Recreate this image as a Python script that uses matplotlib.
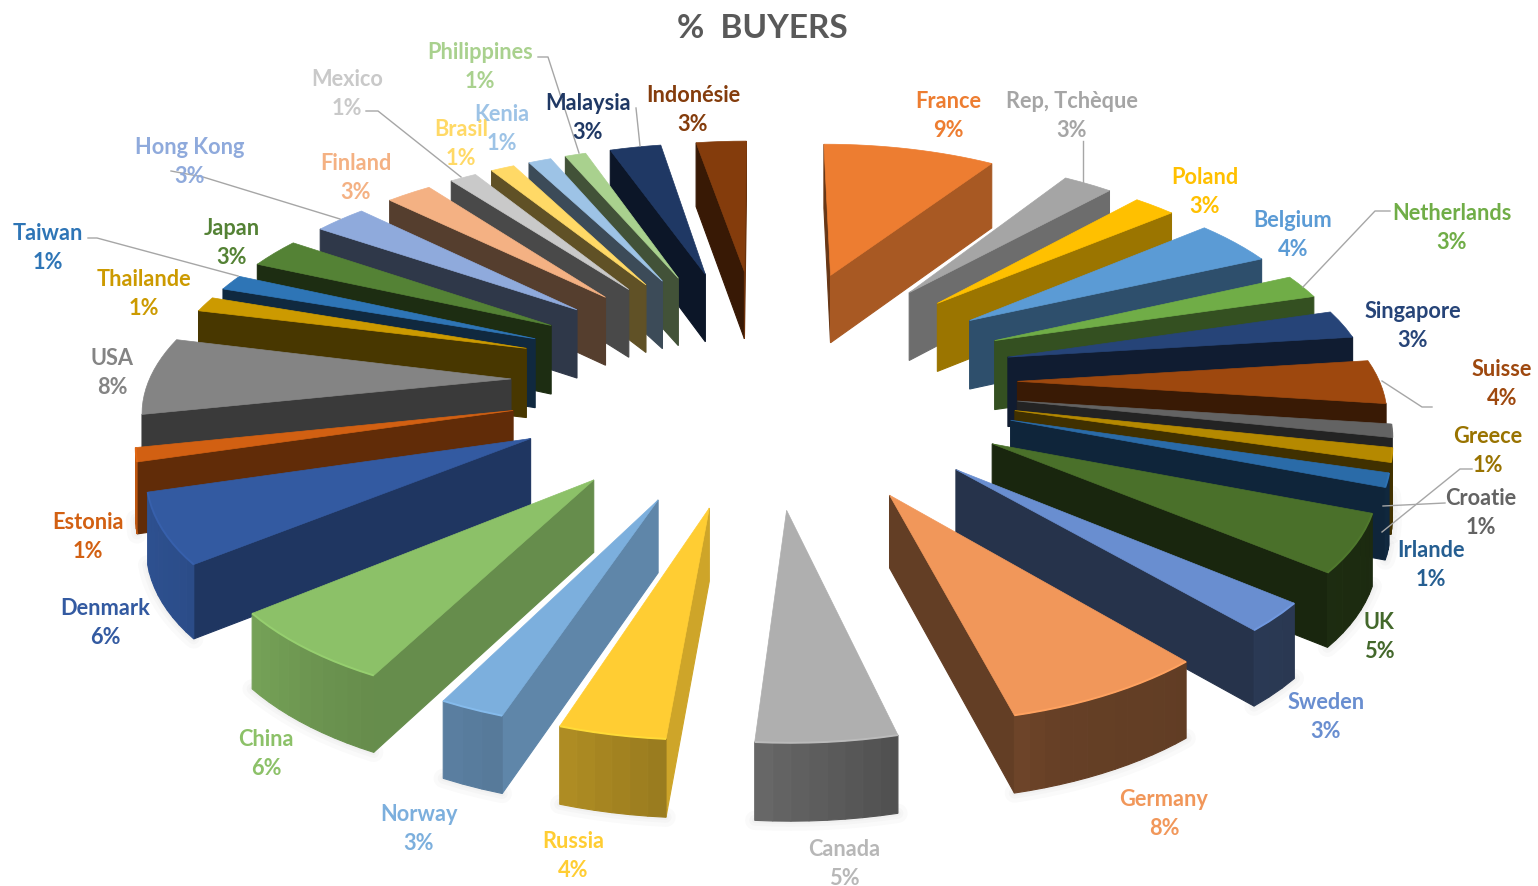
import matplotlib
matplotlib.use("Agg")
import matplotlib.pyplot as plt
import numpy as np

# clockwise from the top, shares, labels as printed
countries = ["France", "Rep, Tchèque", "Poland", "Belgium", "Netherlands", "Singapore", "Suisse",
             "Croatie", "Greece", "Irlande", "UK", "Sweden", "Germany", "Canada", "Russia", "Norway",
             "China", "Denmark", "Estonia", "USA", "Thailande", "Taiwan", "Japan", "Hong Kong",
             "Finland", "Mexico", "Brasil", "Kenia", "Philippines", "Malaysia", "Indonésie"]
shares = [9.1, 2.6, 2.2, 4.2, 2.2, 2.6, 4.0, 1.2, 1.3, 1.25, 5.2, 2.6, 7.44, 5.05, 3.85, 2.37,
          6.6, 6.3, 1.25, 7.06, 1.4, 1.45, 2.75, 2.75, 2.4, 1.4, 1.25, 1.2, 1.1, 2.7, 2.65]
printed = [9, 3, 3, 4, 3, 3, 4, 1, 1, 1, 5, 3, 8, 5, 4, 3, 6, 6, 1, 8, 1, 1, 3, 3, 3, 1, 1, 1, 1, 3, 3]
colors = ["#ED7D31", "#A5A5A5", "#FFC000", "#5B9BD5", "#70AD47", "#264478", "#9E480E",
          "#636363", "#B58900", "#2A6BA8", "#4A702A", "#698ED0", "#F1975A", "#AFAFAF", "#FFCD33",
          "#7CAFDD", "#8CC168", "#335AA1", "#D26012", "#848484", "#CC9A00", "#2E75B6", "#548235",
          "#8FAADC", "#F4B183", "#C9C9C9", "#FFD966", "#9DC3E6", "#A9D18E", "#1F3864", "#843C0C"]
text_colors = ["#ED7D31", "#A5A5A5", "#FFC000", "#5B9BD5", "#70AD47", "#264478", "#9E480E",
               "#636363", "#997300", "#255E91", "#43682B", "#698ED0", "#F1975A", "#B7B7B7", "#FFCD33",
               "#7CAFDD", "#8CC168", "#335AA1", "#D26012", "#848484", "#CC9A00", "#2E75B6", "#548235",
               "#8FAADC", "#F4B183", "#C9C9C9", "#FFD966", "#9DC3E6", "#A9D18E", "#1F3864", "#843C0C"]
label_xy = [(948, 114), (1072, 114), (1205, 190), (1293, 233), (1452, 226), (1413, 324), (1502, 382),
            (1481, 511), (1488, 449), (1431, 563), (1379, 635), (1326, 715), (1164, 812), (844, 862),
            (573, 854), (419, 827), (266, 752), (105, 621), (88, 535), (112, 371), (144, 292), (48, 246),
            (232, 241), (190, 160), (356, 176), (347, 92), (461, 142), (502, 127), (480, 65), (588, 116),
            (693, 108)]
leaders = [[(1083, 142), (1083, 183)], [(1390, 212), (1375, 212), (1303, 288)],
           [(1432, 408), (1422, 408), (1382, 382)], [(1472, 470), (1460, 470), (1382, 533)],
           [(1445, 504), (1383, 507)], [(88, 239), (97, 239), (238, 277)],
           [(171, 172), (203, 178), (340, 220)], [(366, 112), (378, 112), (461, 178)],
           [(538, 58), (548, 58), (579, 154)], [(636, 109), (640, 147)]]

cx, cy = 764, 382
scale = 362
persp = 7.4
elev = np.radians(28)
radius = 1.0
explode = 0.7
wall = 70
# how dark a wall is, by the compass direction it faces
side_dir = [0, 60, 100, 130, 150, 180, 215, 260, 300, 360]
side_k = [0.8, 0.85, 0.8, 0.68, 0.54, 0.37, 0.33, 0.42, 0.5, 0.8]
rim_dir = [0, 90, 135, 160, 170, 185, 200, 215, 235, 255, 270, 360]
rim_k = [0.5, 0.35, 0.4, 0.42, 0.48, 0.6, 0.7, 0.76, 0.86, 0.9, 0.9, 0.5]


def project(x, y, z):
    depth = 1 + y * np.cos(elev) / persp
    return cx + scale * x / depth, cy - scale * y * np.sin(elev) / depth - z * wall / np.sqrt(depth)


def shaded(col, k):
    rgb = np.array(matplotlib.colors.to_rgb(col))
    return tuple(np.clip(rgb * k, 0, 1))


def draw_face(ax, pts, col, zo):
    px = [project(*p) for p in pts]
    xs, ys = zip(*px)
    # screen y points down, so front faces come out positive here
    area = 0.5 * sum(xs[i] * ys[(i + 1) % len(xs)] - xs[(i + 1) % len(xs)] * ys[i] for i in range(len(xs)))
    if area > 0:
        ax.fill(xs, ys, facecolor=col, edgecolor=col, lw=0.8, zorder=zo)


fig = plt.figure(figsize=(15.38, 8.87), dpi=100)
ax = fig.add_axes([0, 0, 1, 1])
ax.set_xlim(0, 1538)
ax.set_ylim(887, 0)
ax.axis("off")

edges = np.cumsum([0] + shares) / sum(shares) * 2 * np.pi
wedges = list(zip(edges[:-1], edges[1:], colors))
# far wedges first
wedges.sort(key=lambda w: -np.cos((w[0] + w[1]) / 2))

for i, (a0, a1, col) in enumerate(wedges):
    mid = (a0 + a1) / 2
    ox, oy = explode * np.sin(mid), explode * np.cos(mid)
    zo = 2 + i
    arc = np.linspace(a0, a1, max(4, int((a1 - a0) * 30)))
    rim = [(ox + radius * np.sin(t), oy + radius * np.cos(t)) for t in arc]
    p0, p1 = rim[0], rim[-1]
    k0 = np.interp((np.degrees(a0) - 90) % 360, side_dir, side_k)
    k1 = np.interp((np.degrees(a1) + 90) % 360, side_dir, side_k)
    draw_face(ax, [(ox, oy, 0), (ox, oy, -1), (p0[0], p0[1], -1), (p0[0], p0[1], 0)], shaded(col, k0), zo)
    draw_face(ax, [(ox, oy, 0), (p1[0], p1[1], 0), (p1[0], p1[1], -1), (ox, oy, -1)], shaded(col, k1), zo)
    # outer wall, one strip per arc step
    for j in range(len(arc) - 1):
        t = (arc[j] + arc[j + 1]) / 2
        q0, q1 = rim[j], rim[j + 1]
        draw_face(ax, [(q0[0], q0[1], 0), (q0[0], q0[1], -1), (q1[0], q1[1], -1), (q1[0], q1[1], 0)],
                  shaded(col, np.interp(np.degrees(t), rim_dir, rim_k)), zo)
    top = [project(ox, oy, 0)] + [project(p[0], p[1], 0) for p in rim]
    ax.fill(*zip(*top), facecolor=col, edgecolor=col, lw=0.5, zorder=zo + 0.5)
    # soft shadow and the bevel highlight on the near slices
    if np.cos(mid) < -0.1:
        low = [project(p[0], p[1], -1) for p in rim]
        for lw in (14, 8, 4):
            ax.plot(*zip(*low), color="k", alpha=0.018, lw=lw, zorder=1, solid_capstyle="round")
        ax.plot(*zip(*top[1:]), color=shaded(col, 1.07), lw=1.4, zorder=zo + 0.6, solid_capstyle="butt")

for line in leaders:
    ax.plot(*zip(*line), color="#A6A6A6", lw=1, zorder=60)

for name, pct, col, (x, y) in zip(countries, printed, text_colors, label_xy):
    ax.text(x, y + 2, f"{name}\n{pct}%", color=col, fontsize=15.7, family="Lato", fontweight="bold",
            ha="center", va="center", linespacing=1.42, zorder=70)

ax.text(762, 28, "%  BUYERS", color="#595959", fontsize=24, family="Lato", fontweight="bold",
        ha="center", va="center", zorder=70)

fig.savefig("out.png", dpi=100)
